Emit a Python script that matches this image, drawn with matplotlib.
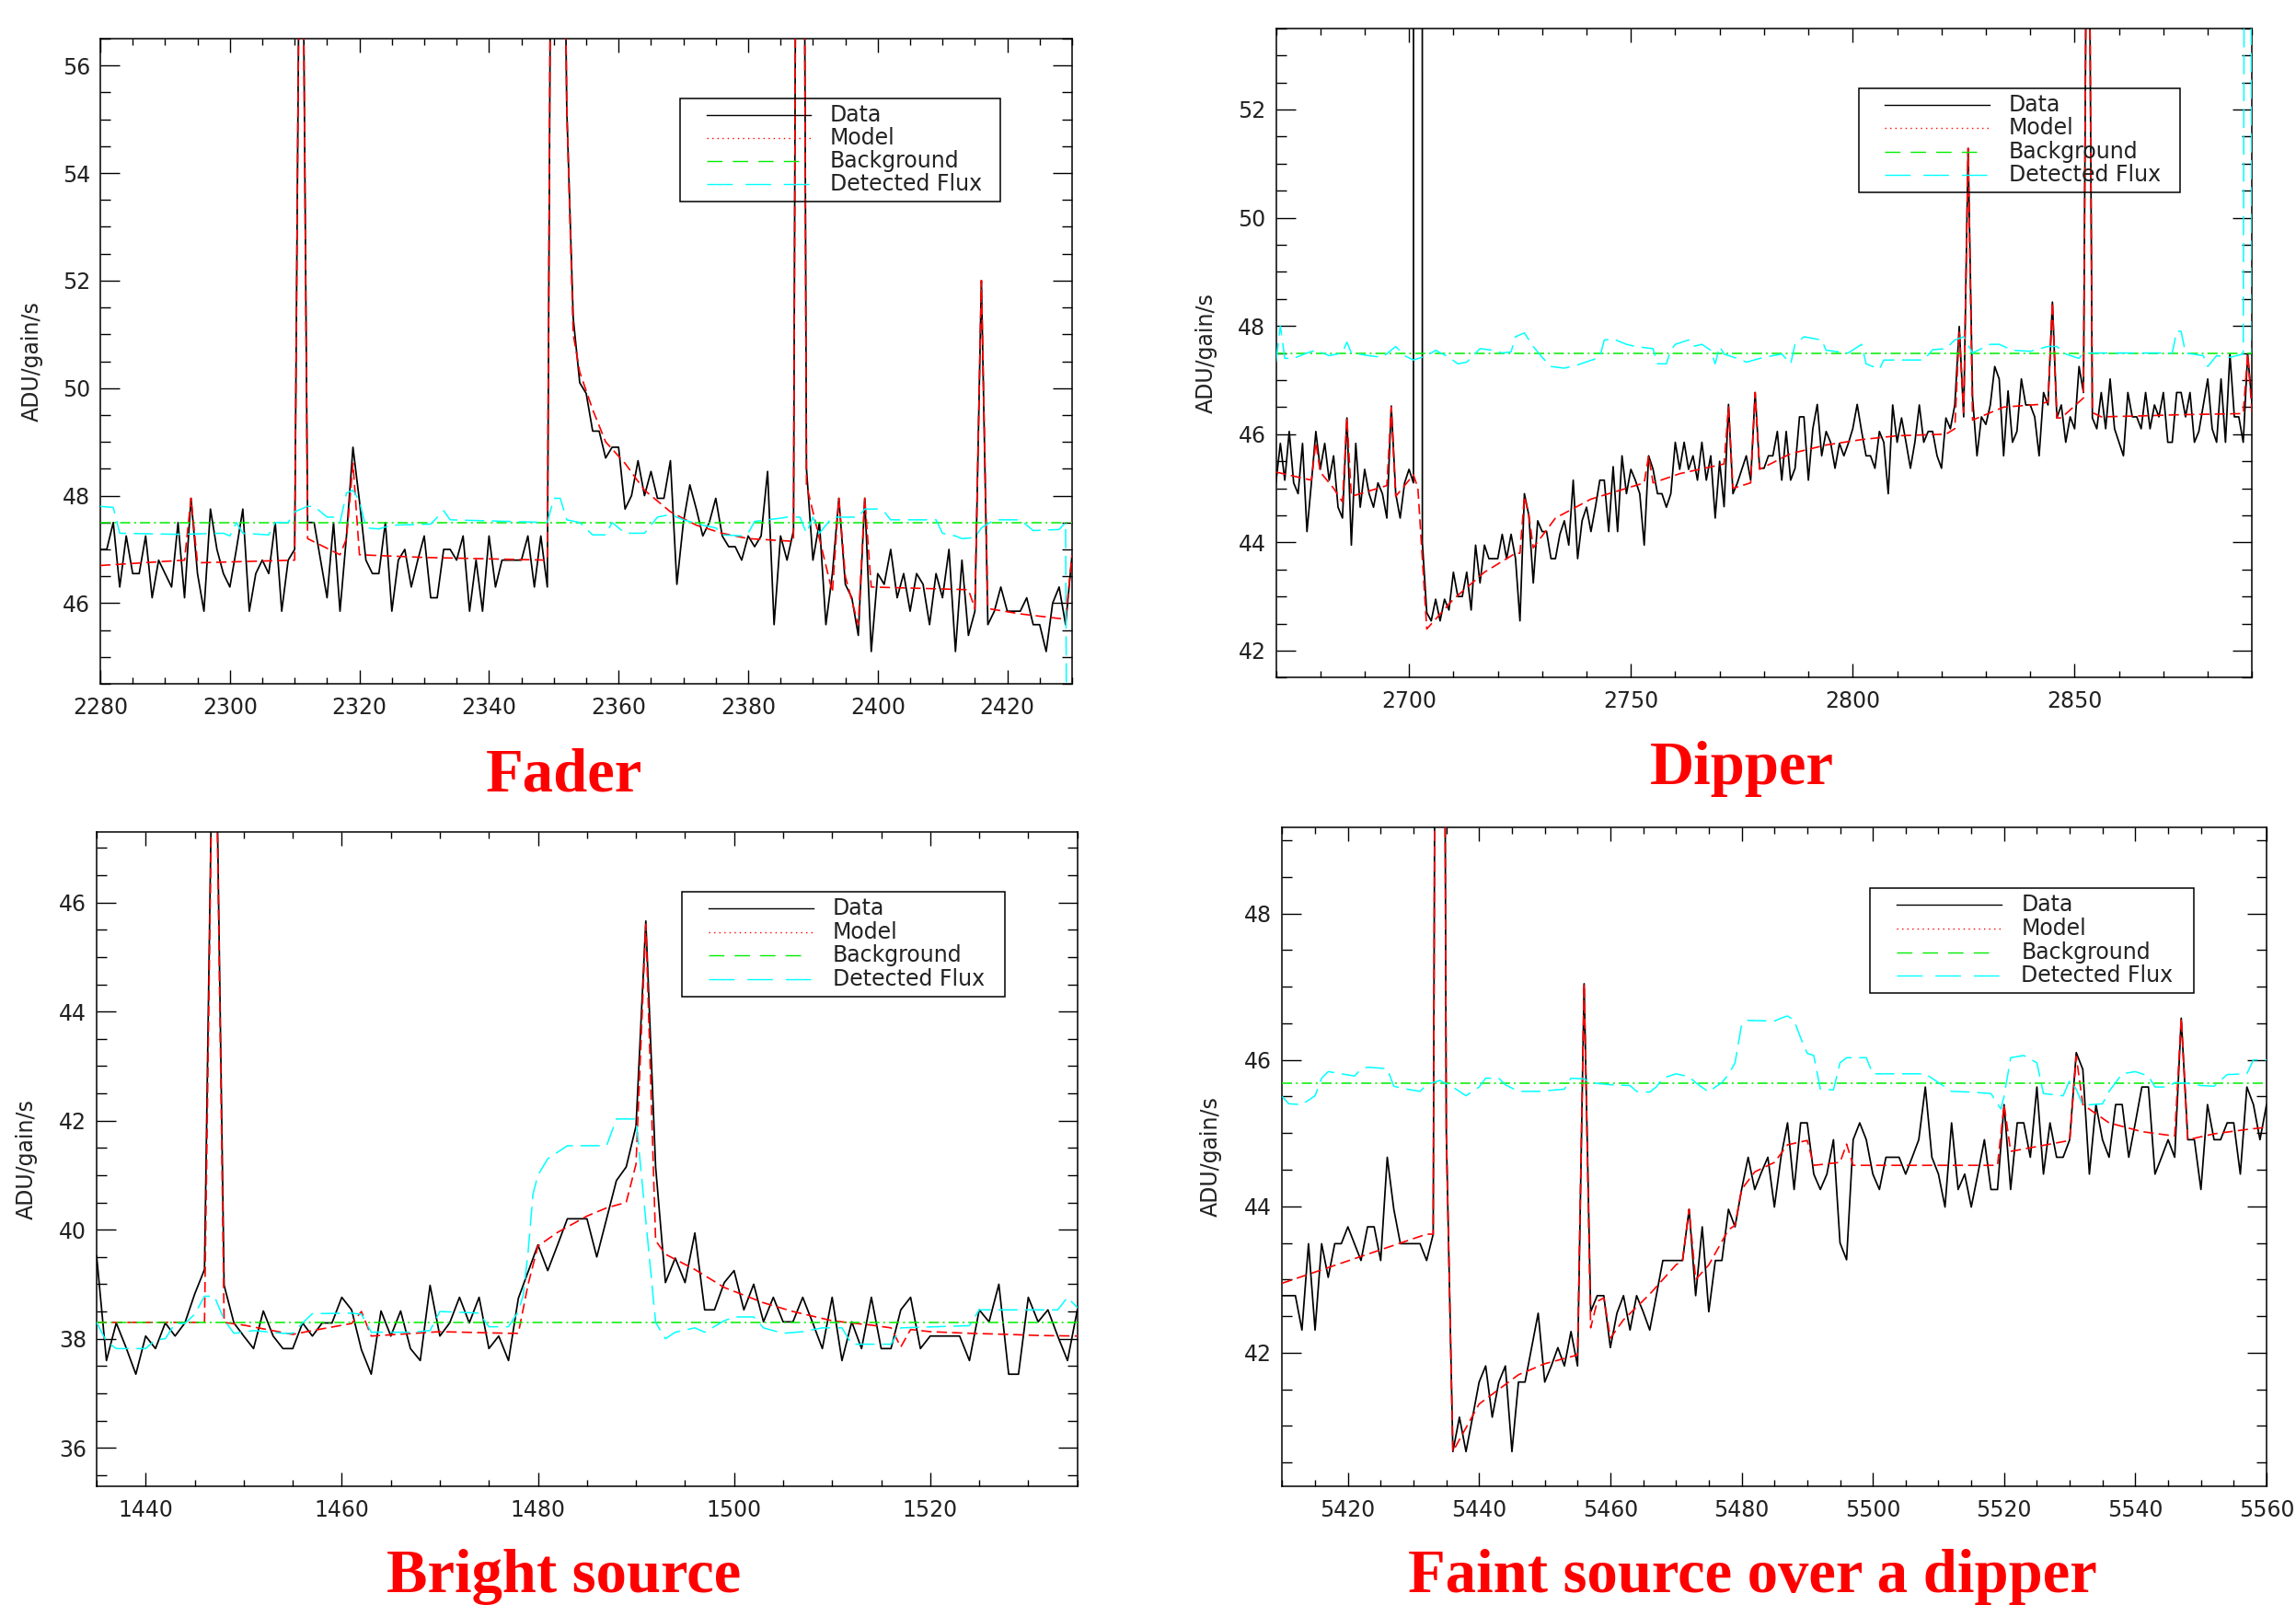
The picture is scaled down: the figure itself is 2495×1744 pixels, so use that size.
import numpy as np
import matplotlib.pyplot as plt
from matplotlib.patches import Rectangle
from matplotlib.ticker import MultipleLocator

plt.rcParams['lines.scale_dashes'] = False
plt.rcParams['font.family'] = 'DejaVu Sans'

# ---------------- Fader ----------------
fader_t0 = 2280
fader_data = [
    47.0, 47.0, 47.5, 46.3, 47.25, 46.55, 46.55, 47.25, 46.1, 46.8,
    46.55, 46.3, 47.5, 46.1, 47.95, 46.55, 45.85, 47.75, 47.0, 46.55,
    46.3, 47.0, 47.75, 45.85, 46.55, 46.8, 46.55, 47.5, 45.85, 46.8,
    47.0, 63.0, 47.5, 47.5, 46.8, 46.1, 47.5, 45.85, 47.25, 48.9,
    47.9, 46.8, 46.55, 46.55, 47.5, 45.85, 46.8, 47.0, 46.3, 46.8,
    47.25, 46.1, 46.1, 47.0, 47.0, 46.8, 47.25, 45.85, 46.8, 45.85,
    47.25, 46.3, 46.8, 46.8, 46.8, 46.8, 47.25, 46.3, 47.25, 46.3,
    70.0, 66.0, 55.2, 51.3, 50.1, 49.9, 49.2, 49.2, 48.7, 48.9,
    48.9, 47.75, 48.0, 48.65, 48.0, 48.45, 47.95, 47.95, 48.65, 46.35,
    47.5, 48.2, 47.75, 47.25, 47.5, 47.95, 47.25, 47.05, 47.05, 46.8,
    47.25, 47.05, 47.25, 48.45, 45.6, 47.25, 46.8, 47.35, 80.0, 48.5,
    46.8, 47.5, 45.6, 46.55, 47.95, 46.35, 46.1, 45.4, 47.95, 45.1,
    46.55, 46.35, 47.0, 46.1, 46.55, 45.85, 46.55, 46.35, 45.6, 46.55,
    46.1, 47.0, 45.1, 46.8, 45.4, 45.85, 52.0, 45.6, 45.85, 46.3,
    45.85, 45.85, 45.85, 46.1, 45.6, 45.6, 45.1, 46.0, 46.3, 45.6,
    46.9,
]
fader_model_t = [2280, 2293, 2294, 2295, 2310, 2311, 2312, 2317, 2318, 2319, 2320,
                 2330, 2349, 2350, 2351, 2352, 2353, 2354, 2356, 2358, 2361, 2364,
                 2368, 2372, 2376, 2380, 2387, 2388, 2389, 2391, 2393, 2394, 2395,
                 2397, 2398, 2399, 2414, 2415, 2416, 2417, 2422, 2429, 2430]
fader_model_y = [46.7, 46.8, 47.95, 46.75, 46.8, 63.0, 47.2, 46.9, 47.2, 48.6, 46.9,
                 46.85, 46.8, 70.0, 66.0, 55.2, 51.0, 50.3, 49.6, 49.0, 48.6, 48.1,
                 47.7, 47.45, 47.3, 47.2, 47.15, 80.0, 48.2, 47.2, 46.2, 47.95, 46.5,
                 45.6, 47.95, 46.3, 46.25, 45.9, 52.0, 45.9, 45.8, 45.7, 46.9]
fader_bkg = 47.5
fader_flux_t = [2280, 2282, 2283, 2292, 2299, 2300, 2301, 2302, 2306, 2307, 2309,
                2310, 2312, 2313, 2315, 2316, 2317, 2318, 2319, 2320, 2321, 2323,
                2325, 2331, 2333, 2334, 2349, 2350, 2351, 2352, 2354, 2356, 2358,
                2359, 2361, 2364, 2366, 2368, 2370, 2373, 2375, 2376, 2379, 2380,
                2381, 2385, 2386, 2388, 2389, 2390, 2391, 2393, 2397, 2398, 2400,
                2401, 2402, 2409, 2410, 2412, 2413, 2415, 2416, 2418, 2422, 2424,
                2428, 2429, 2430]
fader_flux_y = [47.8, 47.78, 47.3, 47.28, 47.3, 47.25, 47.5, 47.3, 47.27, 47.5, 47.5,
                47.7, 47.8, 47.8, 47.6, 47.6, 47.5, 48.05, 48.1, 47.9, 47.4, 47.38,
                47.45, 47.47, 47.72, 47.55, 47.5, 47.95, 47.95, 47.55, 47.5, 47.27, 47.27,
                47.5, 47.3, 47.3, 47.6, 47.65, 47.55, 47.45, 47.4, 47.27, 47.25, 47.3,
                47.52, 47.58, 47.6, 47.6, 47.3, 47.6, 47.3, 47.6, 47.6, 47.75, 47.75,
                47.7, 47.55, 47.55, 47.3, 47.25, 47.2, 47.22, 47.4, 47.55, 47.55, 47.35,
                47.37, 47.5, 20.0]

# ---------------- Dipper ----------------
dipper_t0 = 2670
dipper_data = [
    45.1, 45.83, 45.15, 46.05, 45.1, 44.9, 45.83, 44.2, 45.1, 46.05,
    45.35, 45.83, 45.15, 45.6, 44.65, 44.45, 46.3, 43.95, 45.83, 44.65,
    45.35, 44.9, 44.65, 45.1, 44.9, 44.45, 46.52, 44.9, 44.45, 45.1,
    45.35, 45.1, 1000.0, 44.0, 42.7, 42.55, 42.95, 42.55, 42.95, 42.75,
    43.45, 43.0, 43.0, 43.45, 42.75, 43.95, 43.25, 43.95, 43.7, 43.7,
    43.7, 44.15, 43.7, 44.15, 43.7, 42.55, 44.9, 44.5, 43.25, 44.4,
    44.2, 44.2, 43.7, 43.7, 44.15, 44.4, 43.95, 45.15, 43.7, 44.4,
    44.65, 44.2, 44.65, 45.15, 45.15, 44.2, 45.4, 44.2, 45.6, 44.9,
    45.35, 45.15, 44.9, 43.95, 45.6, 45.35, 44.9, 44.9, 44.65, 44.9,
    45.85, 45.35, 45.85, 45.35, 45.6, 45.15, 45.85, 45.15, 45.6, 44.45,
    45.5, 44.66, 46.55, 44.9, 45.1, 45.35, 45.6, 45.15, 46.77, 45.37,
    45.37, 45.6, 45.6, 46.05, 45.15, 46.05, 45.15, 45.37, 46.32, 46.32,
    45.15, 46.1, 46.55, 45.6, 46.05, 45.85, 45.37, 45.83, 45.6, 45.83,
    46.1, 46.55, 46.05, 45.6, 45.6, 45.37, 46.05, 45.85, 44.9, 46.54,
    45.85, 46.3, 45.85, 45.37, 45.85, 46.54, 45.85, 46.05, 46.05, 45.6,
    45.37, 46.3, 46.1, 46.54, 47.99, 46.32, 51.28, 46.67, 45.6, 46.32,
    46.18, 46.54, 47.25, 47.02, 45.6, 46.8, 45.85, 46.05, 47.02, 46.54,
    46.54, 46.32, 45.6, 46.77, 46.54, 48.44, 46.3, 46.54, 45.85, 46.32,
    46.1, 47.25, 46.77, 60.0, 46.3, 46.1, 46.77, 46.1, 47.02, 46.1,
    45.85, 45.6, 46.77, 46.32, 46.32, 46.1, 46.77, 46.1, 46.54, 46.32,
    46.77, 45.85, 45.85, 46.77, 46.77, 46.32, 46.77, 45.85, 46.05, 46.54,
    47.02, 46.1, 45.85, 47.02, 45.85, 47.48, 46.32, 46.32, 45.85, 47.48,
    46.54,
]
dipper_model_t = [2670, 2678, 2679, 2680, 2683, 2685, 2686, 2687, 2689, 2695, 2696,
                  2697, 2699, 2701, 2702, 2704, 2710, 2717, 2724, 2725, 2726, 2727,
                  2728, 2733, 2741, 2749, 2753, 2754, 2755, 2761, 2771, 2772, 2773,
                  2777, 2778, 2779, 2786, 2794, 2802, 2810, 2821, 2823, 2824, 2825,
                  2826, 2827, 2834, 2842, 2844, 2845, 2846, 2847, 2852, 2853, 2854,
                  2856, 2866, 2874, 2888, 2889, 2890]
dipper_model_y = [45.3, 45.15, 45.85, 45.3, 45.0, 44.75, 46.3, 44.85, 44.9, 45.05, 46.5,
                  44.85, 45.05, 45.25, 45.0, 42.4, 42.95, 43.45, 43.8, 43.8, 44.85, 44.5,
                  43.9, 44.45, 44.8, 45.0, 45.1, 45.6, 45.1, 45.27, 45.45, 46.5, 45.0,
                  45.1, 46.77, 45.35, 45.64, 45.8, 45.9, 45.97, 46.0, 46.1, 47.9, 46.4,
                  51.28, 46.26, 46.5, 46.55, 46.6, 48.44, 46.3, 46.3, 46.67, 60.0, 46.4,
                  46.32, 46.34, 46.36, 46.38, 47.48, 46.4]
dipper_bkg = 47.5
dipper_flux_t = [2670, 2671, 2672, 2674, 2677, 2679, 2682, 2685, 2686, 2687, 2691,
                 2694, 2697, 2699, 2701, 2704, 2706, 2709, 2711, 2713, 2716, 2719,
                 2721, 2723, 2724, 2726, 2728, 2730, 2732, 2735, 2738, 2743, 2744,
                 2746, 2749, 2751, 2755, 2756, 2758, 2759, 2760, 2763, 2764, 2766,
                 2768, 2769, 2770, 2771, 2775, 2776, 2780, 2784, 2786, 2787, 2789,
                 2793, 2794, 2799, 2802, 2803, 2806, 2807, 2816, 2818, 2821, 2823,
                 2825, 2827, 2831, 2833, 2836, 2840, 2844, 2846, 2848, 2851, 2852,
                 2872, 2873, 2874, 2875, 2879, 2880, 2882, 2885, 2888, 2889, 2890]
dipper_flux_y = [47.33, 48.0, 47.4, 47.4, 47.5, 47.55, 47.45, 47.5, 47.7, 47.5, 47.45,
                 47.42, 47.62, 47.45, 47.37, 47.45, 47.55, 47.42, 47.3, 47.33, 47.58, 47.55,
                 47.5, 47.52, 47.8, 47.87, 47.62, 47.42, 47.25, 47.22, 47.28, 47.42, 47.74,
                 47.76, 47.66, 47.62, 47.58, 47.3, 47.3, 47.55, 47.66, 47.74, 47.62, 47.66,
                 47.55, 47.3, 47.62, 47.48, 47.37, 47.33, 47.42, 47.48, 47.3, 47.66, 47.8,
                 47.74, 47.55, 47.5, 47.66, 47.3, 47.2, 47.37, 47.37, 47.56, 47.58, 47.74,
                 47.8, 47.5, 47.66, 47.66, 47.55, 47.53, 47.62, 47.62, 47.48, 47.4, 47.5,
                 47.5, 47.9, 47.9, 47.5, 47.45, 47.25, 47.45, 47.42, 47.48, 80.0, 47.5]

# ---------------- Bright source ----------------
bright_t0 = 1435
bright_data = [
    39.52, 37.6, 38.29, 37.84, 37.35, 38.05, 37.82, 38.29, 38.05, 38.29,
    38.82, 39.27, 51.5, 38.98, 38.29, 38.05, 37.82, 38.51, 38.05, 37.82,
    37.82, 38.29, 38.05, 38.29, 38.29, 38.76, 38.53, 37.8, 37.35, 38.51,
    38.05, 38.51, 37.82, 37.6, 38.98, 38.05, 38.29, 38.76, 38.29, 38.76,
    37.82, 38.05, 37.6, 38.74, 39.23, 39.72, 39.25, 39.72, 40.2, 40.2,
    40.2, 39.5, 40.2, 40.9, 41.15, 41.9, 45.66, 41.15, 39.03, 39.48,
    39.03, 39.94, 38.53, 38.53, 39.03, 39.25, 38.53, 39.0, 38.31, 38.76,
    38.31, 38.31, 38.76, 38.3, 37.82, 38.76, 37.6, 38.31, 37.82, 38.76,
    37.82, 37.82, 38.53, 38.76, 37.82, 38.05, 38.05, 38.05, 38.05, 37.6,
    38.53, 38.31, 39.0, 37.35, 37.35, 38.76, 38.31, 38.53, 38.05, 37.6,
    38.53,
]
bright_model_t = [1435, 1446, 1447, 1448, 1450, 1455, 1457, 1461, 1462, 1463, 1470,
                  1477, 1478, 1479, 1480, 1482, 1485, 1487, 1488, 1489, 1490, 1491,
                  1492, 1493, 1496, 1499, 1503, 1506, 1510, 1514, 1516, 1517, 1518,
                  1520, 1524, 1528, 1531, 1535]
bright_model_y = [38.3, 38.3, 51.5, 38.3, 38.25, 38.08, 38.15, 38.28, 38.5, 38.05, 38.13,
                  38.1, 38.1, 39.0, 39.7, 39.95, 40.25, 40.4, 40.45, 40.5, 41.2, 45.6,
                  39.8, 39.55, 39.27, 38.94, 38.66, 38.5, 38.33, 38.25, 38.2, 37.85, 38.17,
                  38.13, 38.1, 38.08, 38.06, 38.05]
bright_bkg = 38.3
bright_flux_t = [1435, 1436, 1437, 1440, 1441, 1442, 1443, 1444, 1445, 1446, 1447,
                 1448, 1449, 1451, 1454, 1455, 1456, 1457, 1461, 1462, 1463, 1467,
                 1469, 1470, 1474, 1475, 1477, 1478, 1478.5, 1479, 1479.5, 1480, 1481,
                 1483, 1487, 1488, 1490, 1491, 1492, 1493, 1494, 1496, 1497, 1499,
                 1500, 1502, 1503, 1505, 1507, 1509, 1511, 1512, 1516, 1517, 1524,
                 1525, 1533, 1534, 1535]
bright_flux_y = [38.3, 37.95, 37.82, 37.82, 37.98, 38.0, 38.28, 38.28, 38.45, 38.78, 38.78,
                 38.35, 38.1, 38.15, 38.1, 38.1, 38.29, 38.46, 38.47, 38.45, 38.12, 38.12,
                 38.15, 38.5, 38.47, 38.22, 38.22, 38.5, 38.8, 39.6, 40.66, 41.0, 41.3,
                 41.54, 41.54, 42.03, 42.03, 40.17, 38.3, 38.0, 38.12, 38.2, 38.12, 38.33,
                 38.4, 38.4, 38.2, 38.1, 38.13, 38.2, 38.2, 37.9, 37.9, 38.2, 38.24,
                 38.53, 38.53, 38.76, 38.57]

# ---------------- Faint source over a dipper ----------------
faint_t0 = 5410
faint_data = [
    42.78, 42.78, 42.78, 42.31, 43.49, 42.31, 43.49, 43.03, 43.49, 43.49,
    43.72, 43.49, 43.26, 43.72, 43.72, 43.26, 44.67, 43.96, 43.49, 43.49,
    43.49, 43.49, 43.26, 43.62, 70.0, 45.0, 40.65, 41.12, 40.65, 41.12,
    41.6, 41.82, 41.12, 41.6, 41.82, 40.65, 41.6, 41.6, 42.07, 42.54,
    41.6, 41.82, 42.07, 41.82, 42.29, 41.82, 47.04, 42.56, 42.78, 42.78,
    42.07, 42.54, 42.78, 42.31, 42.78, 42.56, 42.31, 42.78, 43.26, 43.26,
    43.26, 43.26, 43.96, 42.78, 43.72, 42.56, 43.26, 43.26, 43.96, 43.72,
    44.23, 44.67, 44.23, 44.46, 44.67, 43.99, 44.67, 45.14, 44.23, 45.14,
    45.14, 44.44, 44.23, 44.44, 44.91, 43.5, 43.27, 44.91, 45.14, 44.91,
    44.44, 44.23, 44.67, 44.67, 44.67, 44.44, 44.67, 44.91, 45.63, 44.67,
    44.44, 43.99, 45.14, 44.23, 44.44, 43.99, 44.44, 44.91, 44.23, 44.23,
    45.39, 44.23, 45.14, 45.14, 44.67, 45.63, 44.44, 45.14, 44.67, 44.67,
    44.91, 46.1, 45.87, 44.44, 45.39, 44.91, 44.67, 45.39, 45.39, 44.67,
    45.14, 45.63, 45.63, 44.44, 44.67, 44.91, 44.67, 46.57, 44.91, 44.91,
    44.23, 45.39, 44.91, 44.91, 45.14, 45.14, 44.44, 45.63, 45.39, 44.91,
    45.39,
]
faint_model_t = [5410, 5432, 5433, 5434, 5435, 5436, 5440, 5446, 5450, 5455, 5456,
                 5457, 5458, 5459, 5460, 5462, 5466, 5470, 5471, 5472, 5473, 5475,
                 5478, 5479, 5480, 5482, 5485, 5487, 5490, 5491, 5495, 5496, 5497,
                 5519, 5520, 5521, 5524, 5530, 5531, 5532, 5536, 5541, 5546, 5547,
                 5548, 5552, 5557, 5560]
faint_model_y = [42.95, 43.62, 43.62, 70.0, 45.0, 40.65, 41.3, 41.7, 41.85, 41.97, 47.04,
                 42.34, 42.7, 42.75, 42.2, 42.45, 42.8, 43.2, 43.26, 43.96, 43.0, 43.2,
                 43.68, 43.74, 44.23, 44.47, 44.6, 44.84, 44.9, 44.56, 44.6, 44.85, 44.56,
                 44.56, 45.39, 44.75, 44.8, 44.9, 46.05, 45.39, 45.14, 45.02, 44.96, 46.57,
                 44.91, 44.99, 45.05, 45.08]
faint_bkg = 45.68
faint_flux_t = [5410, 5411, 5413, 5415, 5416, 5417, 5419, 5421, 5422, 5423, 5426,
                5427, 5429, 5431, 5432, 5434, 5436, 5438, 5440, 5441, 5443, 5444,
                5446, 5449, 5453, 5454, 5456, 5457, 5460, 5463, 5464, 5466, 5467,
                5468, 5470, 5472, 5473, 5475, 5476, 5477, 5478, 5479, 5480, 5481,
                5485, 5486, 5487, 5488, 5489, 5490, 5491, 5492, 5494, 5495, 5496,
                5499, 5500, 5508, 5510, 5512, 5515, 5518, 5519.5, 5520, 5521, 5523,
                5525, 5526, 5529, 5530, 5531, 5532, 5535, 5536, 5538, 5540, 5542,
                5543, 5545, 5546, 5548, 5550, 5552, 5554, 5557, 5558, 5560]
faint_flux_y = [45.5, 45.4, 45.39, 45.51, 45.75, 45.84, 45.81, 45.78, 45.87, 45.9, 45.88,
                45.64, 45.6, 45.57, 45.66, 45.72, 45.63, 45.51, 45.63, 45.75, 45.75, 45.66,
                45.57, 45.57, 45.6, 45.75, 45.74, 45.69, 45.66, 45.65, 45.57, 45.56, 45.63,
                45.75, 45.81, 45.77, 45.69, 45.56, 45.63, 45.69, 45.8, 45.96, 46.48, 46.54,
                46.53, 46.57, 46.6, 46.54, 46.3, 46.09, 46.06, 45.6, 45.59, 45.96, 46.03,
                46.03, 45.81, 45.81, 45.69, 45.57, 45.56, 45.54, 45.33, 45.5, 46.03, 46.06,
                45.96, 45.54, 45.51, 45.72, 45.6, 45.38, 45.4, 45.57, 45.81, 45.84, 45.78,
                45.63, 45.63, 45.69, 45.68, 45.65, 45.64, 45.8, 45.81, 46.0, 46.0]

legend_labels = ['Data', 'Model', 'Background', 'Detected Flux']
titles = ['Fader', 'Dipper', 'Bright source', 'Faint source over a dipper']

W, H = 2495, 1744
fig = plt.figure(figsize=(W / 100, H / 100), dpi=100)
ink = '#222222'


def make_axes(left, right, top, bottom):
    return fig.add_axes([left / W, 1 - bottom / H, (right - left) / W, (bottom - top) / H])


def draw_key(ax):
    ax.add_patch(Rectangle((0.597, 0.7475), 0.329, 0.16, transform=ax.transAxes,
                           fill=False, ec='black', lw=1.1, zorder=7, clip_on=False))
    rows = [0.8823, 0.8463, 0.8103, 0.7746]
    kw = dict(transform=ax.transAxes, zorder=7, clip_on=False)
    ax.plot([0.624, 0.731], [rows[0]] * 2, color='black', lw=1.0, **kw)
    ax.plot([0.624, 0.731], [rows[1]] * 2, color='red', lw=1.0, dashes=(1, 3), **kw)
    ax.plot([0.624, 0.719], [rows[2]] * 2, color='#00ee00', lw=1.0, dashes=(12, 8), **kw)
    ax.plot([0.624, 0.731], [rows[3]] * 2, color='cyan', lw=1.0, dashes=(20, 10), **kw)
    for y, lab in zip(rows, legend_labels):
        ax.text(0.7505, y, lab, transform=ax.transAxes, va='center', ha='left',
                fontsize=17, color=ink, zorder=7)


def draw_panel(ax, t0, data, model_t, model_y, bkg, flux_t, flux_y,
               xlim, ylim, xmaj, xmin, ylab_x):
    t = np.arange(t0, t0 + len(data))
    ax.plot(t, data, color='black', lw=1.25, zorder=3)
    ax.plot(model_t, model_y, color='red', lw=1.2, dashes=(8, 4), zorder=4)
    ax.axhline(bkg, color='#00ee00', lw=1.1, dashes=(8, 3, 1.5, 3), zorder=5)
    ax.plot(flux_t, flux_y, color='cyan', lw=1.1, dashes=(15, 6), zorder=5)
    ax.set_xlim(*xlim)
    ax.set_ylim(*ylim)
    ax.xaxis.set_major_locator(MultipleLocator(xmaj))
    ax.xaxis.set_minor_locator(MultipleLocator(xmin))
    ax.yaxis.set_major_locator(MultipleLocator(2))
    ax.yaxis.set_minor_locator(MultipleLocator(0.5))
    ax.tick_params(axis='both', which='both', direction='in', top=True, right=True,
                   labelsize=17, labelcolor=ink, color='black')
    ax.tick_params(axis='x', which='major', length=10.5, width=1.0, pad=10)
    ax.tick_params(axis='x', which='minor', length=5.2, width=1.0)
    ax.tick_params(axis='y', which='major', length=15.4, width=1.0, pad=8)
    ax.tick_params(axis='y', which='minor', length=7.7, width=1.0)
    for s in ax.spines.values():
        s.set_linewidth(1.1)
    ax.set_ylabel('ADU/gain/s', fontsize=17, color=ink)
    ax.yaxis.set_label_coords(ylab_x, 0.5)
    draw_key(ax)


ax1 = make_axes(109, 1165, 42, 743)
draw_panel(ax1, fader_t0, fader_data, fader_model_t, fader_model_y, fader_bkg,
           fader_flux_t, fader_flux_y, (2280, 2430), (44.5, 56.5), 20, 5, -0.059)

ax2 = make_axes(1386.5, 2447.3, 30.7, 736.4)
draw_panel(ax2, dipper_t0, dipper_data, dipper_model_t, dipper_model_y, dipper_bkg,
           dipper_flux_t, dipper_flux_y, (2670, 2890), (41.5, 53.5), 50, 10, -0.060)

ax3 = make_axes(105, 1170.7, 903.6, 1614.7)
draw_panel(ax3, bright_t0, bright_data, bright_model_t, bright_model_y, bright_bkg,
           bright_flux_t, bright_flux_y, (1435, 1535), (35.3, 47.3), 20, 5, -0.060)

ax4 = make_axes(1393.4, 2463, 898.7, 1614.7)
draw_panel(ax4, faint_t0, faint_data, faint_model_t, faint_model_y, faint_bkg,
           faint_flux_t, faint_flux_y, (5410, 5560), (40.18, 49.18), 20, 5, -0.061)

title_pos = [(613, 859), (1893, 852), (613, 1730), (1904, 1730)]
for (x, y), txt in zip(title_pos, titles):
    fig.text(x / W, 1 - y / H, txt, ha='center', va='baseline', fontsize=48,
             fontweight='bold', color='red', family='Liberation Serif')

fig.savefig('out.png', dpi=100)
